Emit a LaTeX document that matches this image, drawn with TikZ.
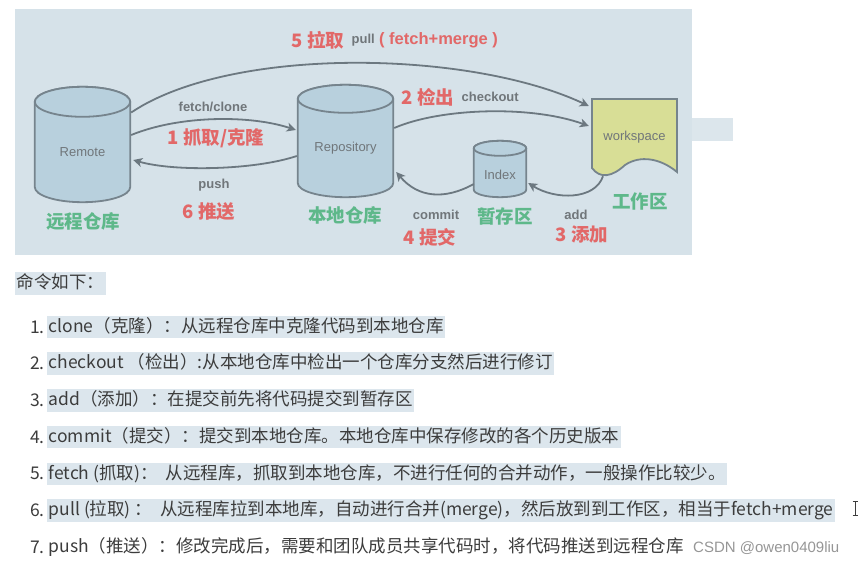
\documentclass[tikz,border=0pt]{standalone}
\usepackage{fontspec}
\setmainfont{Noto Sans CJK SC}
\newfontfamily\arialfont{Liberation Sans}
\usetikzlibrary{positioning,calc,arrows.meta,backgrounds}
\definecolor{panelbg}{RGB}{214,226,233}
\definecolor{cylfill}{RGB}{184,208,221}
\definecolor{cylline}{RGB}{118,132,141}
\definecolor{docfill}{RGB}{216,222,150}
\definecolor{arrowgray}{RGB}{108,120,128}
\definecolor{tagg}{RGB}{112,118,122}
\definecolor{tagr}{RGB}{226,104,104}
\definecolor{tagn}{RGB}{94,184,138}
\definecolor{hlbg}{RGB}{220,230,237}
\definecolor{bodytext}{RGB}{60,60,60}
\definecolor{markgray}{RGB}{150,150,150}
\newcommand{\dbcyl}[2]{%
  \path[draw=cylline, fill=cylfill, line width=1.8pt]
    let \p1=(#1.south west), \p2=(#1.north east), \n1={(\x2-\x1)/2} in
    (\x1,\y2-#2) -- (\x1,\y1+#2)
    arc[start angle=180, end angle=360, x radius=\n1, y radius=#2]
    -- (\x2,\y2-#2)
    arc[start angle=0, end angle=180, x radius=\n1, y radius=#2] -- cycle;
  \path[draw=cylline, fill=cylfill, line width=1.8pt]
    let \p1=(#1.south west), \p2=(#1.north east), \n1={(\x2-\x1)/2} in
    (\x1+\n1,\y2-#2) ellipse[x radius=\n1, y radius=#2];}
\begin{document}
\begin{tikzpicture}[x=1pt,y=-1pt,
    dbbox/.style={inner sep=0pt},
    cyltext/.style={font=\arialfont\fontsize{13}{15}\selectfont, text=tagg},
    graytag/.style={font=\arialfont\bfseries\fontsize{13}{15}\selectfont, text=tagg, inner sep=0pt},
    redtag/.style={font=\bfseries\fontsize{18.5}{20}\selectfont, text=tagr, inner sep=0pt},
    greentag/.style={font=\bfseries\fontsize{18.5}{20}\selectfont, text=tagn, inner sep=0pt},
    flow/.style={draw=arrowgray, line width=1.8pt, -{Stealth[length=9pt,width=9pt,inset=2.5pt]}},
    listtext/.style={font=\fontsize{17.5}{20}\selectfont, text=bodytext, inner xsep=1.5pt, inner ysep=2.5pt, text height=14pt, text depth=3.5pt, anchor=west},
    listnum/.style={font=\fontsize{17.5}{20}\selectfont, text=bodytext, inner sep=0pt, anchor=east}]
    \useasboundingbox (0,0) rectangle (865,567);
    \node[dbbox, minimum width=95pt, minimum height=115pt, label={[cyltext, yshift=-7.5pt]center:Remote}] (remote) at (82.5,144.5) {};
    \node[dbbox, minimum width=95pt, minimum height=112pt, label={[cyltext, yshift=-7pt]center:Repository}] (repo) at (345.5,141) {};
    \node[dbbox, minimum width=52pt, minimum height=56pt, label={[cyltext, yshift=-6pt]center:Index}] (index) at (500,169) {};
    \node[dbbox, cyltext, minimum width=85pt, minimum height=76pt] (work) at (634.5,137) {workspace};
    \begin{pgfonlayer}{background}
        \fill[panelbg] (15,9) rectangle (692,255);
        \fill[panelbg!85!white] (692,118) rectangle (733,141);
        \dbcyl{remote}{15pt}
        \dbcyl{repo}{14pt}
        \dbcyl{index}{7.5pt}
        \draw[draw=cylline, fill=docfill, line width=1.8pt] (592,99) -- (677,99) -- (677,172)
            .. controls (660,158) and (640,155) .. (625,165)
            .. controls (612,177) and (600,179) .. (592,168) -- cycle;
    \end{pgfonlayer}
    \draw[flow] ($(remote.east)+(1,-32)$) .. controls +(100,-67) and +(-119,-56) .. ($(work.west)+(-3,-31)$);
    \draw[flow] ($(remote.east)+(1,-9.5)$) .. controls +(49,-20) and +(-45,-15) .. ($(repo.west)+(-2,-11)$);
    \draw[flow] ($(repo.west)+(-1,15)$) .. controls +(-42,14) and +(42,12) .. ($(remote.east)+(3,15.5)$);
    \draw[flow] ($(repo.east)+(1,-13)$) .. controls +(46,-20) and +(-58,-21) .. ($(work.west)+(-3,-11)$);
    \draw[flow] ($(index.west)+(0,15)$) .. controls +(-29,16) and +(22,26) .. ($(repo.east)+(3,31)$);
    \draw[flow] ($(work.south)+(-31.5,1)$) .. controls +(-8,24) and +(27,17) .. ($(index.east)+(2,14)$);
    \node[redtag] (pullcn) at (318,40) {5 拉取};
    \node[graytag, right=7pt of pullcn] (pullen) {pull};
    \node[redtag, font=\arialfont\bfseries\fontsize{16.5}{18}\selectfont, right=4pt of pullen] (pullfm) {( fetch+merge )};
    \node[graytag] (fetchen) at (213,107) {fetch/clone};
    \node[redtag] (fetchcn) at (216,138) {1 抓取/克隆};
    \node[graytag] (pushen) at (214,185) {push};
    \node[redtag] (pushcn) at (209,212) {6 推送};
    \node[redtag] (checkcn) at (428,97) {2 检出};
    \node[graytag, right=7pt of checkcn] (checken) {checkout};
    \node[graytag] (commiten) at (436,215) {commit};
    \node[redtag] (commitcn) at (430,237) {4 提交};
    \node[graytag] (adden) at (576,215) {add};
    \node[redtag] (addcn) at (582,235) {3 添加};
    \node[greentag] (remotecn) at (83,221) {远程仓库};
    \node[greentag] (repocn) at (345,215) {本地仓库};
    \node[greentag] (indexcn) at (505,216) {暂存区};
    \node[greentag] (workcn) at (640,202) {工作区};
    \node[listtext, fill=hlbg] (intro) at (15,283.5) {命令如下：};
    \foreach \n/\cmd in {1/{clone（克隆）：从远程仓库中克隆代码到本地仓库},
        2/{checkout （检出）:从本地仓库中检出一个仓库分支然后进行修订},
        3/{add（添加）：在提交前先将代码提交到暂存区},
        4/{commit（提交）：提交到本地仓库。本地仓库中保存修改的各个历史版本},
        5/{fetch (抓取)：\ \ 从远程库，抓取到本地仓库，不进行任何的合并动作，一般操作比较少。},
        6/{pull (拉取) ：\ \ 从远程库拉到本地库，自动进行合并(merge)，然后放到到工作区，相当于fetch+merge}} {
        \node[listnum] (num\n) at (45,290.3+36.7*\n) {\n.};
        \node[listtext, fill=hlbg] (cmd\n) at (47,290.3+36.7*\n) {\cmd};
    }
    \node[listnum] (num7) at (45,547.2) {7.};
    \node[listtext] (cmd7) at (47,547.2) {push（推送）：修改完成后，需要和团队成员共享代码时，将代码推送到远程仓库};
    \node[font=\arialfont\fontsize{15}{17}\selectfont, text=markgray, anchor=west, inner sep=0pt] (mark) at (693,548) {CSDN @owen0409liu};
    \draw[bodytext, line width=0.8pt] (852.5,501) -- (857.5,501) (855,501) -- (855,515) (852.5,515) -- (857.5,515);
\end{tikzpicture}
\end{document}
